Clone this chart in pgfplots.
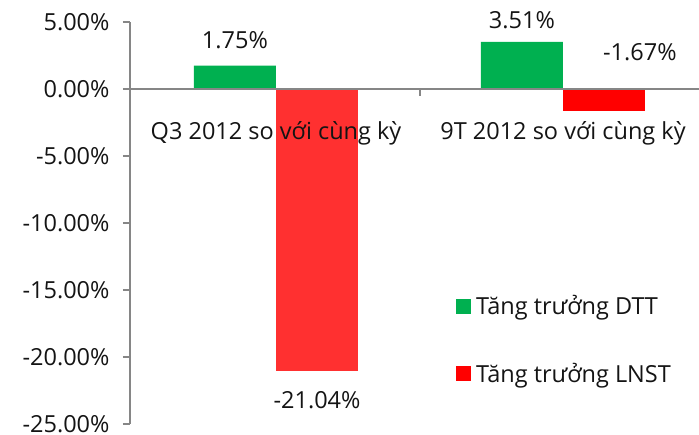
\documentclass[border=0pt]{standalone}
\usepackage{fontspec}
\setmainfont{Open Sans}
\usepackage{pgfplots}
\pgfplotsset{compat=1.18}
\definecolor{dttgreen}{RGB}{0,176,80}
\definecolor{redA}{RGB}{255,48,48}
\definecolor{redB}{RGB}{255,0,0}
\definecolor{axgray}{RGB}{134,134,134}
\definecolor{txt}{RGB}{20,20,20}
\newcommand\cf{\fontsize{23.5bp}{27bp}\selectfont}
\begin{document}
\begin{tikzpicture}
\begin{axis}[
 at={(0,0)}, anchor=south west, scale only axis,
 width=569bp, height=402bp,
 xmin=-0.5087, xmax=1.4739, ymin=-25, ymax=5,
 clip=false, axis on top,
 axis y line=left, axis x line=middle,
 axis line style={draw=axgray, line width=1.3bp, -},
 ytick={-25,-20,...,5},
 yticklabel={\pgfmathprintnumber[fixed,fixed zerofill,precision=2]{\tick}\%},
 /pgf/number format/assume math mode=true,
 ytick style={draw=axgray, line width=1.3bp},
 tick align=outside, major tick length=7bp,
 xtick={0,1}, xticklabels={Q3 2012 so với cùng kỳ, 9T 2012 so với cùng kỳ},
 xtick style={draw=none},
 ticklabel style={font=\cf, text=txt},
 x tick label style={anchor=base, yshift=-43.5bp},
 yticklabel style={anchor=east, xshift=-10bp},
 legend image code/.code={\fill[#1] (0bp,-7.5bp) rectangle (15bp,7.5bp);},
 legend style={at={(0.573,0.209)}, anchor=west, draw=none, fill=none,
   font=\cf, text=txt, row sep=43bp, inner sep=0pt,
   nodes={inner xsep=5bp}},
 legend cell align=left,
]
\addplot[ybar, bar width=82bp, bar shift=-41bp, fill=dttgreen, draw=none, forget plot]
  coordinates {(0,1.75) (1,3.51)};
\addplot[ybar, bar width=82bp, bar shift=41bp, fill=redA, draw=none, forget plot]
  coordinates {(0,-21.04)};
\addplot[ybar, bar width=82bp, bar shift=41bp, fill=redB, draw=none, forget plot]
  coordinates {(1,-1.67)};
\addlegendimage{fill=dttgreen, draw=none}
\addlegendentry{Tăng trưởng DTT}
\addlegendimage{fill=redB, draw=none}
\addlegendentry{Tăng trưởng LNST}
\draw[axgray, line width=1.3bp] (axis cs:0.5017,0) -- ([yshift=-7bp]axis cs:0.5017,0);
\node[font=\cf, text=txt] at (axis cs:-0.143,3.66) {1.75\%};
\node[font=\cf, text=txt] at (axis cs:0.857,5.15) {3.51\%};
\node[font=\cf, text=txt] at (axis cs:1.268,2.76) {-1.67\%};
\node[font=\cf, text=txt] at (axis cs:0.143,-23.2) {-21.04\%};
\end{axis}
\pgfresetboundingbox
\path[use as bounding box] (-130bp,-11bp) rectangle (569bp,424bp);
\end{tikzpicture}
\end{document}
